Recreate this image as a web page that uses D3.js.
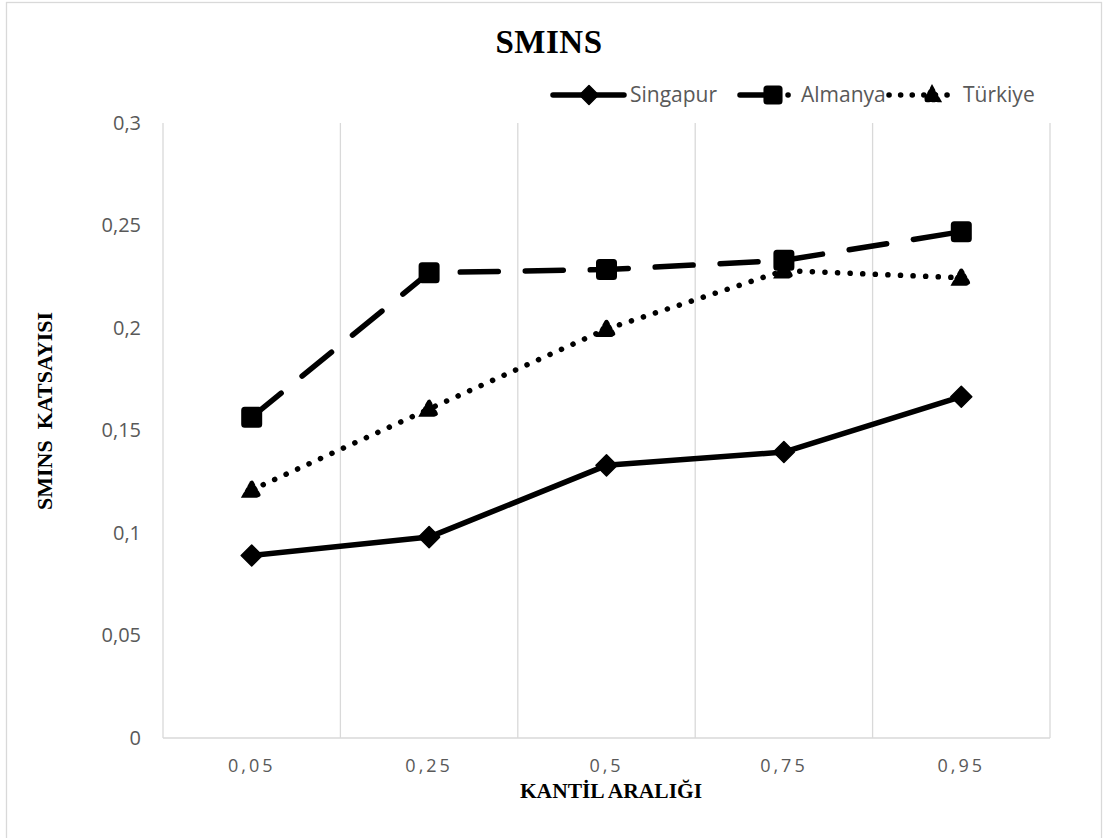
<!DOCTYPE html>
<html>
<head>
<meta charset="utf-8">
<script src="https://cdn.jsdelivr.net/npm/d3@7"></script>
<style>
  html, body { margin: 0; padding: 0; background: #fff; }
  svg { display: block; }
</style>
</head>
<body>
<svg id="chart" width="1103" height="838"></svg>
<script>
// Quantile levels on the x axis
const categories = ["0,05", "0,25", "0,5", "0,75", "0,95"];

// SMINS coefficients per country
const singapur = [0.089, 0.098, 0.133, 0.1395, 0.1665];
const almanya  = [0.1565, 0.227, 0.2285, 0.233, 0.247];
const turkiye  = [0.121, 0.1605, 0.1995, 0.228, 0.2245];

const yTicks = [0, 0.05, 0.1, 0.15, 0.2, 0.25, 0.3];

const series = [
  { name: "Singapur", values: singapur, dash: null, legendDash: null, marker: "diamond" },
  { name: "Almanya",  values: almanya,  dash: "38,27", legendDash: "26,22,0.1,40", marker: "square" },
  { name: "Türkiye",  values: turkiye,  dash: "0.1,12.5", legendDash: "0.1,11.5", marker: "triangle" }
];

const svg = d3.select("#chart");
const W = 1103, H = 838;
const plot = { left: 163, right: 1050, top: 123, bottom: 738 };
const grid = "#d9d9d9", textGray = "#595959";
const sansFont = "'Open Sans', 'Noto Sans', sans-serif";
const serifFont = "'Liberation Serif', 'Times New Roman', serif";

// Outer chart frame
svg.append("rect")
  .attr("x", 6.5).attr("y", 2.5)
  .attr("width", 1095).attr("height", H + 20)
  .attr("fill", "none").attr("stroke", grid).attr("stroke-width", 1.3);

const x = d3.scaleBand().domain(categories).range([plot.left, plot.right]).padding(0);
const y = d3.scaleLinear().domain([0, 0.3]).range([plot.bottom, plot.top]);
const xc = c => x(c) + x.bandwidth() / 2;

// Vertical gridlines at category boundaries
const bounds = categories.map(c => x(c)).concat([plot.right]);
svg.append("g").selectAll("line").data(bounds).join("line")
  .attr("x1", d => d).attr("x2", d => d)
  .attr("y1", plot.top).attr("y2", plot.bottom)
  .attr("stroke", grid).attr("stroke-width", 1.3);

// Bottom axis line
svg.append("line")
  .attr("x1", plot.left).attr("x2", plot.right)
  .attr("y1", plot.bottom).attr("y2", plot.bottom)
  .attr("stroke", grid).attr("stroke-width", 1.3);

// Y tick labels
const yAxis = svg.append("g").attr("transform", `translate(${plot.left},0)`)
  .call(d3.axisLeft(y).tickValues(yTicks).tickSize(0).tickPadding(22)
    .tickFormat(d => String(d).replace(".", ",")));
yAxis.select(".domain").remove();
yAxis.selectAll("text")
  .attr("fill", textGray).attr("font-family", sansFont).attr("font-size", 20);

// X tick labels
const xAxis = svg.append("g").attr("transform", `translate(0,${plot.bottom})`)
  .call(d3.axisBottom(x).tickSize(0).tickPadding(21));
xAxis.select(".domain").remove();
xAxis.selectAll("text")
  .attr("fill", textGray).attr("font-family", sansFont).attr("font-size", 18)
  .attr("letter-spacing", "3px");

// Titles
svg.append("text").attr("x", 549).attr("y", 53).attr("text-anchor", "middle")
  .attr("font-family", serifFont).attr("font-weight", "bold").attr("font-size", 33)
  .attr("letter-spacing", "0.5px")
  .text("SMINS");

svg.append("text").attr("x", 611).attr("y", 798).attr("text-anchor", "middle")
  .attr("font-family", serifFont).attr("font-weight", "bold").attr("font-size", 21.5)
  .text("KANTİL ARALIĞI");

svg.append("text")
  .attr("transform", `translate(52,411) rotate(-90)`)
  .attr("text-anchor", "middle")
  .attr("font-family", serifFont).attr("font-weight", "bold").attr("font-size", 22)
  .attr("xml:space", "preserve")
  .text("SMINS  KATSAYISI");

// Marker shapes
function drawMarker(g, type, cx, cy, scale = 1) {
  if (type === "diamond") {
    const r = 10.5 * scale;
    g.append("path")
      .attr("d", `M${cx},${cy - r}L${cx + r},${cy}L${cx},${cy + r}L${cx - r},${cy}Z`)
      .attr("fill", "#000").attr("stroke", "#000").attr("stroke-width", 1.5)
      .attr("stroke-linejoin", "round");
  } else if (type === "square") {
    const s = 19 * scale;
    g.append("rect")
      .attr("x", cx - s / 2).attr("y", cy - s / 2).attr("width", s).attr("height", s)
      .attr("rx", 2.5)
      .attr("fill", "#000").attr("stroke", "#000").attr("stroke-width", 2);
  } else {
    // triangle drawn with a dotted outline, giving a ragged edge
    const r = 7 * scale;
    const path = `M${cx},${cy - r}L${cx + r},${cy + r * 0.8}L${cx - r},${cy + r * 0.8}Z`;
    g.append("path").attr("d", path)
      .attr("fill", "#000").attr("stroke", "#000").attr("stroke-width", 4.5)
      .attr("stroke-dasharray", "2.5,3").attr("stroke-linecap", "round");
  }
}

const line = d3.line().x((d, i) => xc(categories[i])).y(d => y(d));

series.forEach(s => {
  const g = svg.append("g");
  g.append("path").datum(s.values)
    .attr("d", line)
    .attr("fill", "none").attr("stroke", "#000").attr("stroke-width", 5.5)
    .attr("stroke-linecap", "round").attr("stroke-linejoin", "round")
    .attr("stroke-dasharray", s.dash);
  s.values.forEach((v, i) => drawMarker(g, s.marker, xc(categories[i]), y(v)));
});

// Legend
const legendY = 95;
const legendItems = [
  { x0: 553, x1: 624, mx: 589, tx: 630 },
  { x0: 740, x1: 789, mx: 773, tx: 801 },
  { x0: 889, x1: 958, mx: 932, tx: 963 }
];
series.forEach((s, i) => {
  const L = legendItems[i];
  const g = svg.append("g");
  g.append("line")
    .attr("x1", L.x0).attr("x2", L.x1).attr("y1", legendY).attr("y2", legendY)
    .attr("stroke", "#000").attr("stroke-width", 5.5).attr("stroke-linecap", "round")
    .attr("stroke-dasharray", s.legendDash);
  drawMarker(g, s.marker, L.mx, legendY, 0.9);
  g.append("text").attr("x", L.tx).attr("y", legendY + 7)
    .attr("font-family", sansFont).attr("font-size", 21).attr("fill", textGray)
    .text(s.name);
});
</script>
</body>
</html>
